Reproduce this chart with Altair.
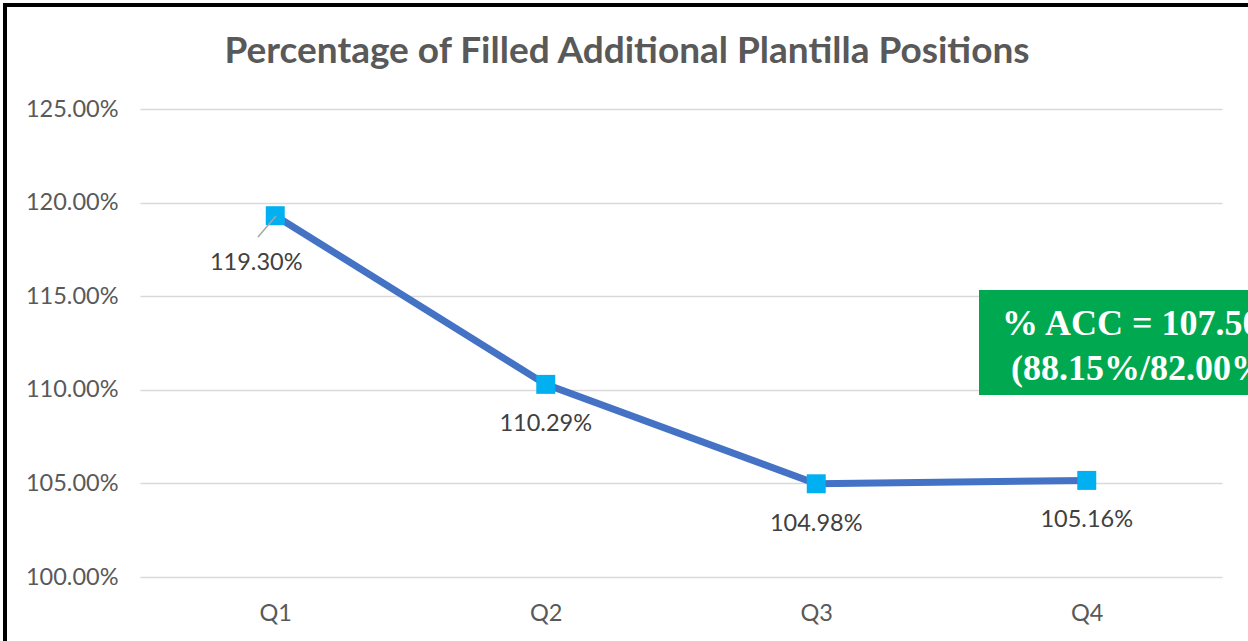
import altair as alt
import pandas as pd

quarters = ["Q1", "Q2", "Q3", "Q4"]
values = [1.1930, 1.1029, 1.0498, 1.0516]
y_ticks = [1.00, 1.05, 1.10, 1.15, 1.20, 1.25]
title_text = "Percentage of Filled Additional Plantilla Positions"
acc_lines = ["% ACC = 107.50%", "(88.15%/82.00%)"]

df = pd.DataFrame({"quarter": quarters, "value": values})

FONT = "Lato"
GRAY = "#595959"
LSIZE = 23.5

x_enc = alt.X("quarter:N", sort=quarters, title=None,
              axis=alt.Axis(labelAngle=0, labelFont=FONT, labelFontSize=LSIZE, labelColor=GRAY,
                            labelPadding=24, ticks=False, domain=False, grid=False))
y_enc = alt.Y("value:Q", title=None,
              scale=alt.Scale(domain=[1.0, 1.25], nice=False, zero=False),
              axis=alt.Axis(values=y_ticks, format=".2%", labelFont=FONT, labelFontSize=LSIZE,
                            labelColor=GRAY, labelPadding=22, ticks=False, domain=False,
                            grid=True, gridColor="#D9D9D9", gridWidth=1.5))

base = alt.Chart(df)

line = base.mark_line(color="#4472C4", strokeWidth=7).encode(x=x_enc, y=y_enc)
pts = base.mark_point(shape="square", filled=True, opacity=1, color="#00B0F0", size=360).encode(
    x=alt.X("quarter:N", sort=quarters), y="value:Q")

lab_q1 = base.transform_filter(alt.datum.quarter == "Q1").mark_text(
    font=FONT, fontSize=LSIZE, color="#404040", dx=-19, dy=47).encode(
    x=alt.X("quarter:N", sort=quarters), y="value:Q", text=alt.Text("value:Q", format=".2%"))
lab_rest = base.transform_filter(alt.datum.quarter != "Q1").mark_text(
    font=FONT, fontSize=LSIZE, color="#404040", dy=40).encode(
    x=alt.X("quarter:N", sort=quarters), y="value:Q", text=alt.Text("value:Q", format=".2%"))

leader = alt.Chart(pd.DataFrame({"a": [0]})).mark_rule(color="#A6A6A6", strokeWidth=1.5).encode(
    x=alt.value(136), y=alt.value(107), x2=alt.value(118), y2=alt.value(128))

title = alt.Chart(pd.DataFrame({"t": [title_text]})).mark_text(
    font=FONT, fontSize=37, fontWeight="bold", color=GRAY, align="center", baseline="middle").encode(
    x=alt.value(487), y=alt.value(-57), text="t:N")

box = alt.Chart(pd.DataFrame({"a": [0]})).mark_rect(color="#00A94F").encode(
    x=alt.value(839), x2=alt.value(1200), y=alt.value(181), y2=alt.value(286))

acc_df = pd.DataFrame({"t": acc_lines, "row": [0, 1]})
acc1 = alt.Chart(acc_df).transform_filter(alt.datum.row == 0).mark_text(
    font="Liberation Serif", fontSize=36, fontWeight="bold", color="white", align="left",
    baseline="alphabetic").encode(x=alt.value(862), y=alt.value(226), text="t:N")
acc2 = alt.Chart(acc_df).transform_filter(alt.datum.row == 1).mark_text(
    font="Liberation Serif", fontSize=36, fontWeight="bold", color="white", align="left",
    baseline="alphabetic").encode(x=alt.value(871), y=alt.value(271), text="t:N")

border_l = alt.Chart(pd.DataFrame({"a": [0]})).mark_rule(color="black", strokeWidth=4).encode(
    x=alt.value(-135), y=alt.value(-104), y2=alt.value(540))
border_t = alt.Chart(pd.DataFrame({"a": [0]})).mark_rule(color="black", strokeWidth=4).encode(
    x=alt.value(-137), x2=alt.value(1120), y=alt.value(-104))

chart = alt.layer(line, pts, lab_q1, lab_rest, leader, title, box, acc1, acc2, border_l, border_t).properties(
    width=1082, height=468,
    padding={"left": 140, "top": 109, "right": 26, "bottom": 64},
    autosize=alt.AutoSizeParams(type="none"),
    background="white",
).configure_view(stroke=None).configure_scale(bandPaddingInner=0, bandPaddingOuter=0)

chart.save("out.html", embed_options={"renderer": "svg", "actions": False})
